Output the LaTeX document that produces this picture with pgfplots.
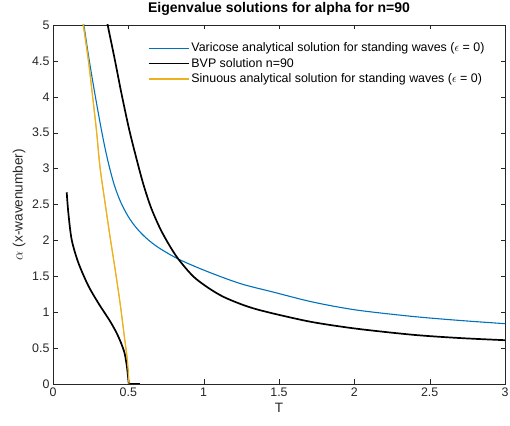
\documentclass[border=0pt]{standalone}
\usepackage{fontspec}
\setmainfont{Liberation Sans}
\usepackage{pgfplots}
\pgfplotsset{compat=1.18}
\usetikzlibrary{calc}
\definecolor{mblue}{rgb}{0,0.447,0.741}
\definecolor{myellow}{rgb}{0.929,0.694,0.125}
\definecolor{maxis}{rgb}{0.15,0.15,0.15}

% values
\pgfplotstableread{
T alpha
0.198 5.10
0.205 5.00
0.235 4.58
0.265 4.20
0.295 3.84
0.323 3.52
0.350 3.24
0.378 2.99
0.410 2.75
0.450 2.53
0.500 2.33
0.555 2.17
0.620 2.03
0.700 1.90
0.832 1.74
1.020 1.57
1.241 1.40
1.462 1.28
1.727 1.14
2.015 1.03
2.391 0.94
2.700 0.885
3.000 0.84
}\varicose

\pgfplotstableread{
T alpha
0.355 5.12
0.363 5.00
0.410 4.52
0.455 4.04
0.505 3.55
0.555 3.13
0.600 2.78
0.650 2.46
0.710 2.17
0.770 1.94
0.832 1.74
0.930 1.50
1.030 1.34
1.130 1.215
1.250 1.11
1.352 1.04
1.506 0.96
1.727 0.86
2.015 0.77
2.391 0.685
2.700 0.64
3.000 0.61
}\bvpupper

\pgfplotstableread{
T alpha
0.091 2.67
0.102 2.38
0.124 2.01
0.168 1.69
0.234 1.37
0.300 1.13
0.340 1.00
0.380 0.87
0.420 0.72
0.450 0.58
0.475 0.43
0.490 0.25
0.498 0.10
0.503 0.00
}\bvplower

\pgfplotstableread{
T alpha
0.503 0.00
0.577 0.00
}\bvptail

\pgfplotstableread{
T alpha
0.195 5.10
0.201 5.00
0.234 4.52
0.261 4.04
0.289 3.52
0.312 3.02
0.345 2.53
0.378 2.06
0.412 1.60
0.445 1.13
0.473 0.67
0.493 0.34
0.504 0.00
}\sinuous

\begin{document}
\begin{tikzpicture}
\begin{axis}[
  scale only axis, width=452pt, height=359pt,
  xmin=0, xmax=3, ymin=0, ymax=5,
  xtick={0,0.5,...,3}, ytick={0,0.5,...,5},
  tick align=inside, major tick length=4.5pt,
  axis line style={maxis}, tick style={maxis},
  every tick label/.append style={text=maxis},
  tick label style={font=\fontsize{12.4}{14}\selectfont},
  /pgf/number format/assume math mode=true,
  title={\fontsize{14}{16}\selectfont\bfseries Eigenvalue solutions for alpha for n=90},
  xlabel={T}, ylabel={$\alpha$ (x-wavenumber)},
  label style={font=\fontsize{13.6}{15}\selectfont, text=maxis},
  legend cell align=left,
  legend style={draw=none, fill=none, at={(0.966,0.962)}, anchor=north east,
    font=\fontsize{12.4}{14}\selectfont, row sep=1pt},
  legend image code/.code={\draw[#1] (0pt,0pt) -- (40pt,0pt);},
]
\addplot[mblue, line width=1.1pt, smooth] table {\varicose};
\addlegendentry{Varicose analytical solution for standing waves ($\epsilon$ = 0)}
\addplot[black, line width=1.7pt, smooth] table {\bvpupper};
\addlegendentry{BVP solution n=90}
\addplot[myellow, line width=1.1pt, smooth] table {\sinuous};
\addlegendentry{Sinuous analytical solution for standing waves ($\epsilon$ = 0)}
\addplot[black, line width=1.7pt, smooth, forget plot] table {\bvplower};
\addplot[black, line width=1.7pt, forget plot] table {\bvptail};
\addplot[myellow, line width=1.1pt, smooth, forget plot] table {\sinuous};
\end{axis}
\pgfresetboundingbox
\path ($(current axis.south west)+(-53pt,-42pt)$) rectangle ($(current axis.north east)+(5pt,25pt)$);
\end{tikzpicture}
\end{document}
